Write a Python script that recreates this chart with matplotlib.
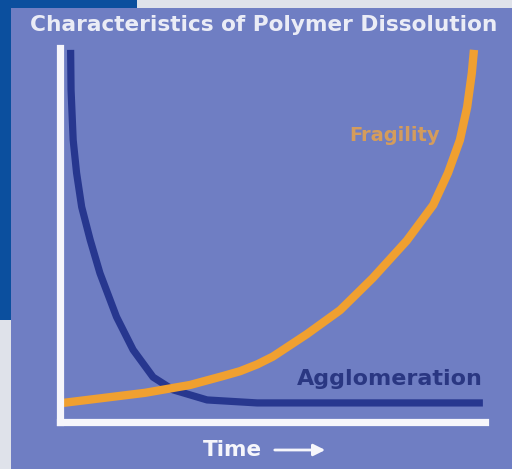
import matplotlib
matplotlib.use("Agg")
import matplotlib.pyplot as plt
from matplotlib.patches import Rectangle, FancyArrowPatch

# ---- data (arbitrary units 0..10) ----
fragility_x = [0.07, 1.00, 2.00, 3.06, 3.84, 4.24, 4.64, 5.01, 5.81, 6.59, 7.36, 8.16,
               8.78, 9.13, 9.41, 9.58, 9.69, 9.74]
fragility_y = [0.51, 0.64, 0.78, 0.99, 1.23, 1.36, 1.54, 1.75, 2.35, 2.99, 3.85, 4.85,
               5.80, 6.66, 7.54, 8.42, 9.33, 9.95]

agglom_x = [0.25, 0.26, 0.31, 0.39, 0.51, 0.71, 0.94, 1.10, 1.33, 1.72, 2.19, 2.66,
            3.46, 4.64, 9.95]
agglom_y = [9.95, 8.88, 7.54, 6.66, 5.75, 4.87, 3.98, 3.50, 2.81, 1.93, 1.20, 0.86,
            0.59, 0.51, 0.51]

title = "Characteristics of Polymer Dissolution"
label_fragility = "Fragility"
label_agglom = "Agglomeration"
label_time = "Time"

# ---- colours ----
bg_gray = "#dfe2ea"
dark_blue = "#0b4f9e"
panel = "#6f7ec3"
curve_blue = "#27378f"
orange = "#f0a030"
white = "#f6f6fb"

W, H = 512, 469
fig = plt.figure(figsize=(W / 100, H / 100), dpi=100, facecolor=bg_gray)

def fx(px):
    return px / W

def fy(py):
    return 1 - py / H

# background blocks
fig.patches.append(Rectangle((0, fy(320)), fx(137), 320 / H, transform=fig.transFigure,
                             facecolor=dark_blue, edgecolor="none", zorder=0))
fig.patches.append(Rectangle((fx(11), 0), 1 - fx(11), fy(8), transform=fig.transFigure,
                             facecolor=panel, edgecolor="none", zorder=1))

# axes region: px x 60..485, y 48..422
ax = fig.add_axes([fx(60), fy(422), (485 - 60) / W, (422 - 48) / H])
ax.set_zorder(3)
ax.set_facecolor("none")
ax.set_xlim(0, 10)
ax.set_ylim(0, 10)
for s in ("top", "right"):
    ax.spines[s].set_visible(False)
for s in ("left", "bottom"):
    ax.spines[s].set_color(white)
    ax.spines[s].set_linewidth(5.2)
    ax.spines[s].set_capstyle("projecting")
    ax.spines[s].set_zorder(5)
ax.set_xticks([])
ax.set_yticks([])

ax.plot(fragility_x, fragility_y, color=orange, lw=6, solid_capstyle="butt",
        solid_joinstyle="round", zorder=3, clip_on=False)
ax.plot(agglom_x, agglom_y, color=curve_blue, lw=5.2, solid_capstyle="butt",
        solid_joinstyle="round", zorder=2, clip_on=False)

ax.text(7.77, 1.15, label_agglom, color="#2a3782", fontsize=16, fontweight="bold",
        ha="center", va="center")
ax.text(7.88, 7.65, label_fragility, color="#e7a24a", alpha=0.85, fontsize=14,
        fontweight="bold", ha="center", va="center")

fig.text(fx(30), fy(25), title, color=white, fontsize=15.6, fontweight="bold",
         ha="left", va="center", alpha=0.92, zorder=5)
fig.text(fx(203), fy(450), label_time, color=white, fontsize=15.5, fontweight="bold",
         ha="left", va="center", zorder=5)
arrow = FancyArrowPatch((fx(272), fy(450)), (fx(328), fy(450)), transform=fig.transFigure,
                        arrowstyle="-|>,head_length=7,head_width=3.5", color=white, lw=2,
                        mutation_scale=1, zorder=6)
fig.add_artist(arrow)

fig.savefig("out.png", dpi=100, facecolor=bg_gray)
